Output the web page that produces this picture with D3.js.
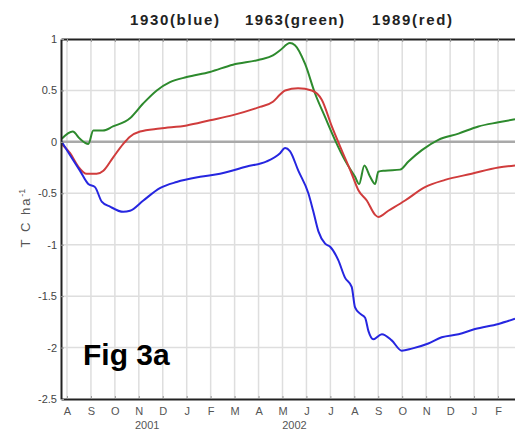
<!DOCTYPE html>
<meta charset="utf-8">
<style>
  body { margin: 0; background: #fff; }
  svg { font-family: "Liberation Sans", Arial, sans-serif; }
  .grid line { stroke: #dedede; stroke-width: 1.5px; }
  .series { fill: none; stroke-width: 2px; stroke-linejoin: round; }
</style>
<body>
<script src="https://cdn.jsdelivr.net/npm/d3@7"></script>
<script>

  // month index 0 = first "A" tick
  var monthLabels = ["A","S","O","N","D","J","F","M","A","M","J","J","A","S","O","N","D","J","F"];
  var yearLabels = [{label: "2001", m: 3.35}, {label: "2002", m: 9.5}];
  var yTicks = [1, 0.5, 0, -0.5, -1, -1.5, -2, -2.5];
  var titles = [
    {text: "1930(blue)", x: 130, w: 89},
    {text: "1963(green)", x: 245, w: 99},
    {text: "1989(red)", x: 372, w: 80}
  ];

  // [month index, T C ha-1]
  var green1963 = [
    [-0.22, 0.03], [0.24, 0.10], [0.54, 0.03], [0.89, -0.02], [1.10, 0.11], [1.50, 0.11],
    [1.92, 0.15], [2.63, 0.23], [3.17, 0.37], [3.75, 0.50], [4.30, 0.58], [5.00, 0.63],
    [5.97, 0.68], [6.93, 0.75], [8.06, 0.80], [8.60, 0.84], [8.90, 0.89], [9.31, 0.96],
    [9.52, 0.94], [9.94, 0.76], [10.36, 0.47], [10.78, 0.24], [11.19, 0.02], [11.61, -0.18],
    [12.03, -0.34], [12.20, -0.41], [12.42, -0.23], [12.66, -0.34], [12.87, -0.41],
    [13.00, -0.29], [13.28, -0.28], [13.91, -0.27], [14.26, -0.19], [14.82, -0.08],
    [15.51, 0.02], [16.35, 0.08], [17.18, 0.15], [18.02, 0.19], [18.71, 0.22]
  ];
  var red1989 = [
    [-0.22, -0.02], [0.13, -0.11], [0.47, -0.24], [0.82, -0.31], [1.24, -0.31], [1.52, -0.28],
    [1.93, -0.15], [2.35, -0.02], [2.63, 0.05], [3.05, 0.10], [3.88, 0.13], [5.00, 0.16],
    [5.97, 0.21], [6.93, 0.26], [8.06, 0.34], [8.60, 0.39], [8.90, 0.46], [9.11, 0.50],
    [9.65, 0.52], [10.22, 0.50], [10.64, 0.41], [11.06, 0.15], [11.47, -0.08], [11.89, -0.31],
    [12.17, -0.47], [12.52, -0.57], [12.87, -0.71], [13.00, -0.73], [13.42, -0.67],
    [14.12, -0.57], [14.95, -0.44], [15.79, -0.37], [16.90, -0.31], [18.02, -0.25], [18.71, -0.23]
  ];
  var blue1930 = [
    [-0.22, 0.00], [0.13, -0.13], [0.54, -0.28], [0.89, -0.41], [1.17, -0.44], [1.45, -0.58],
    [1.80, -0.63], [2.35, -0.68], [2.63, -0.67], [3.19, -0.57], [3.88, -0.45], [4.58, -0.39],
    [5.56, -0.34], [6.39, -0.31], [7.51, -0.24], [8.34, -0.19], [8.90, -0.11], [9.11, -0.06],
    [9.31, -0.09], [9.66, -0.28], [10.08, -0.50], [10.28, -0.67], [10.50, -0.87], [10.78, -0.99],
    [10.99, -1.02], [11.33, -1.15], [11.61, -1.32], [11.89, -1.41], [12.03, -1.61], [12.24, -1.67],
    [12.45, -1.71], [12.59, -1.84], [12.79, -1.92], [13.15, -1.87], [13.56, -1.93], [13.98, -2.03],
    [14.40, -2.01], [15.09, -1.96], [15.65, -1.90], [16.35, -1.87], [17.04, -1.82], [18.02, -1.77],
    [18.71, -1.72]
  ];

  var margin = {top: 39, right: 0, bottom: 33, left: 61};
  var width = 515 - margin.left - margin.right;
  var height = 432 - margin.top - margin.bottom;

  var x = d3.scaleLinear().domain([-0.25, 18.71]).range([0, width]);
  var y = d3.scaleLinear().domain([-2.5, 1]).range([height, 0]);

  var svg = d3.select("body").append("svg")
    .attr("width", 515)
    .attr("height", 432);

  var g = svg.append("g")
    .attr("transform", "translate(" + margin.left + "," + margin.top + ")");

  g.append("clipPath").attr("id", "clip")
    .append("rect").attr("width", width).attr("height", height);

  // Grid.
  var grid = g.append("g").attr("class", "grid");
  grid.selectAll(".v").data(d3.range(monthLabels.length))
    .enter().append("line")
    .attr("x1", function(d) { return x(d); })
    .attr("x2", function(d) { return x(d); })
    .attr("y1", 0).attr("y2", height);
  grid.selectAll(".h").data(yTicks.filter(function(d) { return d !== 1 && d !== -2.5 && d !== 0; }))
    .enter().append("line")
    .attr("x1", 0).attr("x2", width)
    .attr("y1", function(d) { return y(d); })
    .attr("y2", function(d) { return y(d); });

  // Zero line.
  g.append("line")
    .attr("x1", 0).attr("x2", width)
    .attr("y1", y(0)).attr("y2", y(0))
    .attr("stroke", "#a9a9a9").attr("stroke-width", 2.5);

  // Series.
  var line = d3.line()
    .x(function(d) { return x(d[0]); })
    .y(function(d) { return y(d[1]); })
    .curve(d3.curveMonotoneX);

  var plot = g.append("g").attr("clip-path", "url(#clip)");
  [[green1963, "#2d8a2d"], [red1989, "#d03c3c"], [blue1930, "#2626e0"]].forEach(function(s) {
    plot.append("path")
      .attr("class", "series")
      .attr("stroke", s[1])
      .attr("d", line(s[0]));
  });

  // Axes.
  var xBottom = g.append("g")
    .attr("transform", "translate(0," + height + ")")
    .call(d3.axisBottom(x)
      .tickValues(d3.range(monthLabels.length))
      .tickFormat(function(d) { return monthLabels[d]; })
      .tickSizeInner(-3).tickSizeOuter(0).tickPadding(8));
  xBottom.select(".domain").attr("stroke", "#222").attr("stroke-width", 2);
  xBottom.selectAll(".tick line").attr("stroke", "#999");
  xBottom.selectAll(".tick text").attr("fill", "#555").style("font-size", "11px");

  var xTop = g.append("g")
    .call(d3.axisTop(x)
      .tickValues(d3.range(monthLabels.length))
      .tickFormat("")
      .tickSizeInner(-3).tickSizeOuter(0));
  xTop.select(".domain").attr("stroke", "#222").attr("stroke-width", 2);
  xTop.selectAll(".tick line").attr("stroke", "#999");

  var yAxis = g.append("g")
    .call(d3.axisLeft(y)
      .tickValues(yTicks)
      .tickFormat(function(d) { return d; })
      .tickSizeInner(-3).tickSizeOuter(0).tickPadding(4));
  yAxis.select(".domain").attr("stroke", "#222").attr("stroke-width", 2);
  yAxis.selectAll(".tick line").attr("stroke", "#999");
  yAxis.selectAll(".tick text").attr("fill", "#444").style("font-size", "11px");

  // Year labels.
  g.selectAll(".year").data(yearLabels)
    .enter().append("text")
    .attr("x", function(d) { return x(d.m); })
    .attr("y", height + 30)
    .attr("text-anchor", "middle")
    .attr("fill", "#555")
    .style("font-size", "11px")
    .text(function(d) { return d.label; });

  // Y label.
  var yl = svg.append("text")
    .attr("transform", "translate(30,218) rotate(-90)")
    .attr("text-anchor", "middle")
    .attr("fill", "#555")
    .style("font-size", "13px")
    .style("letter-spacing", "2px");
  yl.append("tspan").text("T C ha");
  yl.append("tspan").attr("dy", -5).style("font-size", "9px").style("letter-spacing", "0px").text("-1");

  // Title.
  svg.selectAll(".title").data(titles)
    .enter().append("text")
    .attr("x", function(d) { return d.x; })
    .attr("y", 25)
    .attr("textLength", function(d) { return d.w; })
    .attr("lengthAdjust", "spacing")
    .attr("fill", "#222")
    .style("font-size", "15px")
    .style("font-weight", "bold")
    .text(function(d) { return d.text; });

  // Panel label.
  svg.append("text")
    .attr("x", 83)
    .attr("y", 365)
    .attr("fill", "#000")
    .style("font-size", "30px")
    .style("font-weight", "bold")
    .text("Fig 3a");

</script>
